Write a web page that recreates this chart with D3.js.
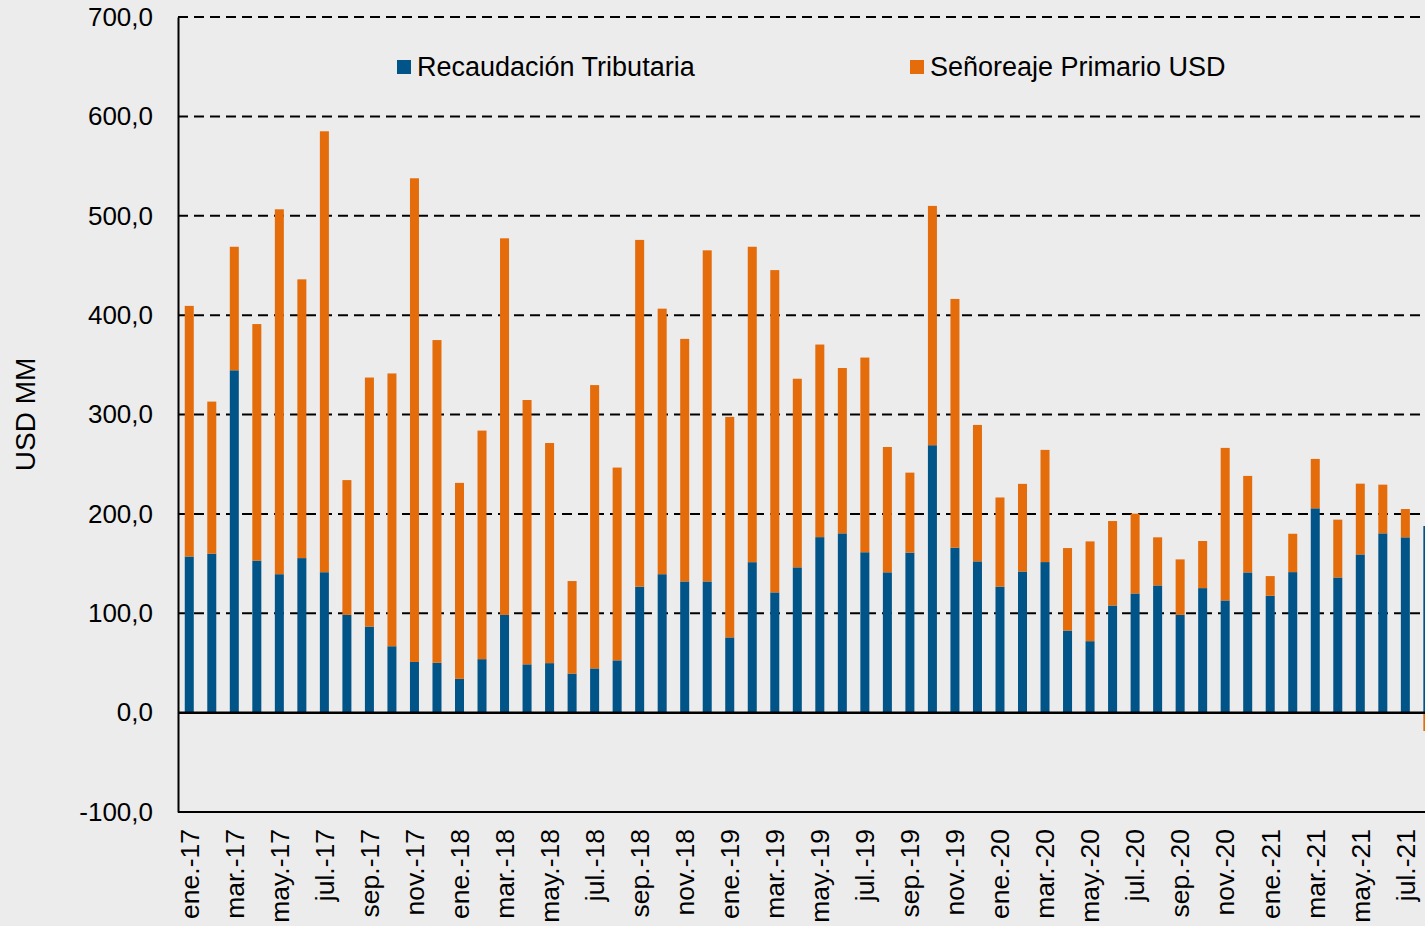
<!DOCTYPE html>
<html>
<head>
<meta charset="utf-8">
<script src="https://cdn.jsdelivr.net/npm/d3@7"></script>
<style>
  html, body { margin: 0; padding: 0; background: #ececec; overflow: hidden; }
  svg { display: block; font-family: "Liberation Sans", Arial, sans-serif; }
</style>
</head>
<body>
<div id="chart"></div>
<script>
// categories: ene.-17 .. ago.-21
const monthNames = ["ene.", "feb.", "mar.", "abr.", "may.", "jun.", "jul.", "ago.", "sep.", "oct.", "nov.", "dic."];
const years = ["17", "18", "19", "20", "21"];
const categories = [];
years.forEach((y) => monthNames.forEach((m) => categories.push(m + "-" + y)));
categories.length = 56;

const recaudacion = [
  157.1, 160.0, 344.5, 153.0, 139.3, 155.5, 141.3, 98.4, 86.6, 66.8, 51.0, 50.2,
  34.0, 53.8, 98.4, 48.6, 49.8, 39.3, 44.5, 52.6, 126.7, 139.3, 132.0, 132.0,
  75.7, 151.4, 121.0, 146.2, 176.6, 180.4, 161.4, 141.2, 161.0, 269.1, 166.0, 152.2,
  126.8, 142.0, 151.5, 82.6, 71.9, 107.8, 119.9, 128.0, 98.4, 125.3, 112.9, 141.1,
  117.6, 141.4, 205.6, 136.0, 159.2, 180.4, 176.4, 187.8
];
const senoreaje = [
  252.2, 153.0, 124.3, 238.0, 367.2, 280.5, 443.7, 135.6, 250.6, 274.5, 486.7, 324.7,
  197.2, 230.0, 378.9, 266.0, 221.5, 93.1, 285.1, 194.0, 349.0, 267.2, 244.1, 333.2,
  221.9, 317.4, 324.3, 189.8, 193.8, 166.4, 195.9, 126.1, 80.5, 240.8, 250.3, 137.3,
  89.7, 88.2, 112.9, 83.0, 100.4, 85.0, 80.3, 48.4, 55.8, 47.4, 153.5, 97.1,
  19.8, 38.6, 49.7, 58.2, 71.2, 49.0, 28.5, -18.5
];
const seriesNames = ["Recaudación Tributaria", "Señoreaje Primario USD"];
const seriesColors = ["#005487", "#e46c0a"];
const yTicks = [-100, 0, 100, 200, 300, 400, 500, 600, 700];

const width = 1425, height = 926;
const plotLeft = 178, plotTop = 17, plotBottom = 812;
const step = 22.52;
const plotRight = plotLeft + step * categories.length;

const svg = d3.select("#chart").append("svg")
  .attr("width", width).attr("height", height)
  .attr("viewBox", [0, 0, width, height]);

svg.append("rect").attr("width", width).attr("height", height).attr("fill", "#ececec");

const x = d3.scaleBand().domain(categories).range([plotLeft, plotRight])
  .paddingInner(0.6).paddingOuter(0.3);
const y = d3.scaleLinear().domain([-100, 700]).range([plotBottom, plotTop]);

const table = categories.map((c, i) => ({ cat: c, a: recaudacion[i], b: senoreaje[i] }));
const stacked = d3.stack().keys(["a", "b"]).offset(d3.stackOffsetDiverging)(table);

// gridlines (dashed)
svg.append("g").selectAll("line")
  .data(yTicks.filter((t) => t > 0))
  .join("line")
  .attr("x1", plotLeft).attr("x2", plotRight)
  .attr("y1", (d) => y(d)).attr("y2", (d) => y(d))
  .attr("stroke", "#000").attr("stroke-width", 2)
  .attr("stroke-dasharray", "10,6");

// bars
svg.append("g").selectAll("g")
  .data(stacked)
  .join("g")
  .attr("fill", (d, i) => seriesColors[i])
  .selectAll("rect")
  .data((d) => d)
  .join("rect")
  .attr("x", (d) => x(d.data.cat))
  .attr("width", x.bandwidth())
  .attr("y", (d) => y(Math.max(d[0], d[1])))
  .attr("height", (d) => Math.abs(y(d[0]) - y(d[1])));

// zero line, bottom border, left axis
svg.append("line").attr("x1", plotLeft).attr("x2", plotRight)
  .attr("y1", y(0)).attr("y2", y(0))
  .attr("stroke", "#000").attr("stroke-width", 2.5);
svg.append("line").attr("x1", plotLeft).attr("x2", plotRight)
  .attr("y1", y(-100)).attr("y2", y(-100))
  .attr("stroke", "#000").attr("stroke-width", 2);

const yAxis = svg.append("g")
  .attr("transform", `translate(${plotLeft},0)`)
  .call(d3.axisLeft(y).tickValues(yTicks).tickSize(0).tickPadding(25)
    .tickFormat((d) => d3.format(".1f")(d).replace(".", ",").replace("\u2212", "-")));
yAxis.select(".domain").attr("stroke", "#000").attr("stroke-width", 2);
yAxis.selectAll("text").attr("font-size", 26).attr("fill", "#000")
  .attr("font-family", "'Liberation Sans', Arial, sans-serif");

// x labels (every other month)
svg.append("g").selectAll("text")
  .data(categories.filter((c, i) => i % 2 === 0))
  .join("text")
  .attr("transform", (d) => `translate(${x(d) + x.bandwidth() / 2},829) rotate(-90)`)
  .attr("text-anchor", "end")
  .attr("dy", "0.35em")
  .attr("font-size", 26.5)
  .attr("fill", "#000")
  .text((d) => d);

// y title
svg.append("text")
  .attr("transform", `translate(25,${(plotTop + plotBottom) / 2}) rotate(-90)`)
  .attr("text-anchor", "middle")
  .attr("dy", "0.35em")
  .attr("font-size", 28)
  .attr("fill", "#000")
  .text("USD MM");

// legend
const legendX = [397, 910];
const legend = svg.append("g").selectAll("g")
  .data(seriesNames)
  .join("g")
  .attr("transform", (d, i) => `translate(${legendX[i]},0)`);
legend.append("rect").attr("x", 0).attr("y", 60).attr("width", 14).attr("height", 14)
  .attr("fill", (d, i) => seriesColors[i]);
legend.append("text").attr("x", 20).attr("y", 76)
  .attr("font-size", 27).attr("fill", "#000").text((d) => d);
</script>
</body>
</html>
